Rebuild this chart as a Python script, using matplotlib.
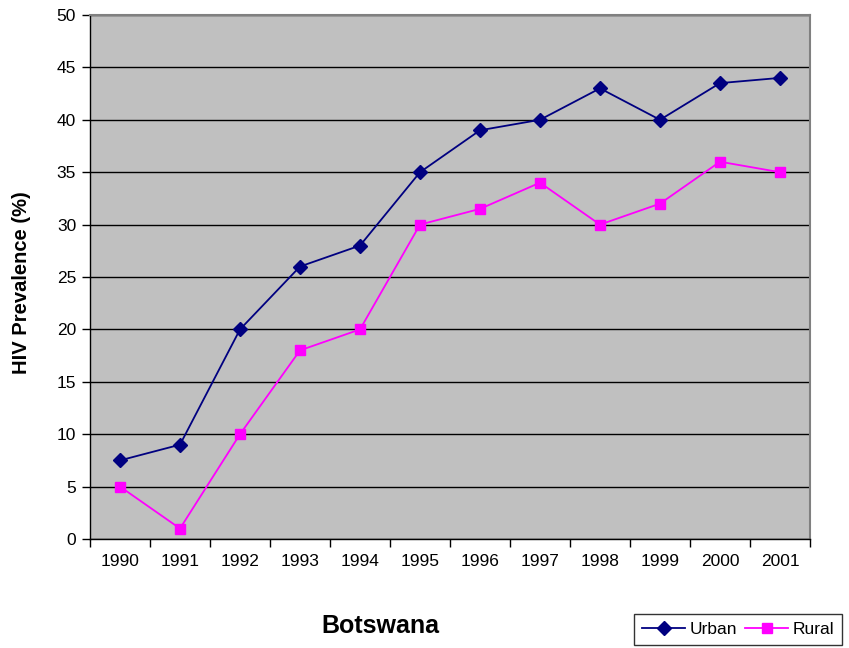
import matplotlib
matplotlib.use("Agg")
import matplotlib.pyplot as plt
import numpy as np

years = ["1990", "1991", "1992", "1993", "1994", "1995", "1996", "1997", "1998", "1999", "2000", "2001"]
urban = [7.5, 9, 20, 26, 28, 35, 39, 40, 43, 40, 43.5, 44]
rural = [5, 1, 10, 18, 20, 30, 31.5, 34, 30, 32, 36, 35]

plt.rcParams['font.family'] = ['Liberation Sans', 'DejaVu Sans']

W, H = 849, 648
fig = plt.figure(figsize=(W/100, H/100), dpi=100)
ax = fig.add_axes([90/W, 1-539/H, 720/W, 524/H])
ax.set_facecolor('#C0C0C0')

x = np.arange(len(years)) + 0.5
ax.plot(x, urban, color='#000080', marker='D', markersize=7, linewidth=1.3, label='Urban', zorder=3)
ax.plot(x, rural, color='#FF00FF', marker='s', markersize=7.5, linewidth=1.3, label='Rural', zorder=3)

ax.set_xlim(0, len(years))
ax.set_ylim(0, 50)
ax.set_yticks(np.arange(0, 51, 5))
ax.yaxis.grid(True, color='black', linewidth=1)
ax.set_axisbelow(True)

ax.set_xticks(np.arange(0, len(years)+1))
ax.set_xticklabels([])
ax.set_xticks(x, minor=True)
ax.set_xticklabels(years, minor=True)
ax.tick_params(axis='x', which='major', direction='out', length=6, width=1, color='black')
ax.tick_params(axis='x', which='minor', length=0, pad=11, labelsize=12.5)
ax.tick_params(axis='y', direction='out', length=6, width=1, labelsize=12.5, pad=4)

for s in ['left', 'bottom']:
    ax.spines[s].set_color('black')
    ax.spines[s].set_linewidth(1)
for s in ['top', 'right']:
    ax.spines[s].set_color('#808080')
    ax.spines[s].set_linewidth(1.5)

fig.text(380/W, 1-626/H, 'Botswana', ha='center', va='center', fontsize=18, fontweight='bold')
fig.text(22/W, 1-283/H, 'HIV Prevalence (%)', ha='center', va='center', rotation=90, fontsize=14.5, fontweight='bold')

leg = fig.legend(loc='upper left', bbox_to_anchor=(634/W, 1-614/H), ncol=2, frameon=True,
                 fancybox=False, edgecolor='black', fontsize=12.5, handlelength=2.5,
                 columnspacing=0.45, handletextpad=0.25, borderpad=0.45, borderaxespad=0)
leg.get_frame().set_linewidth(1)

fig.savefig('out.png', dpi=100)
